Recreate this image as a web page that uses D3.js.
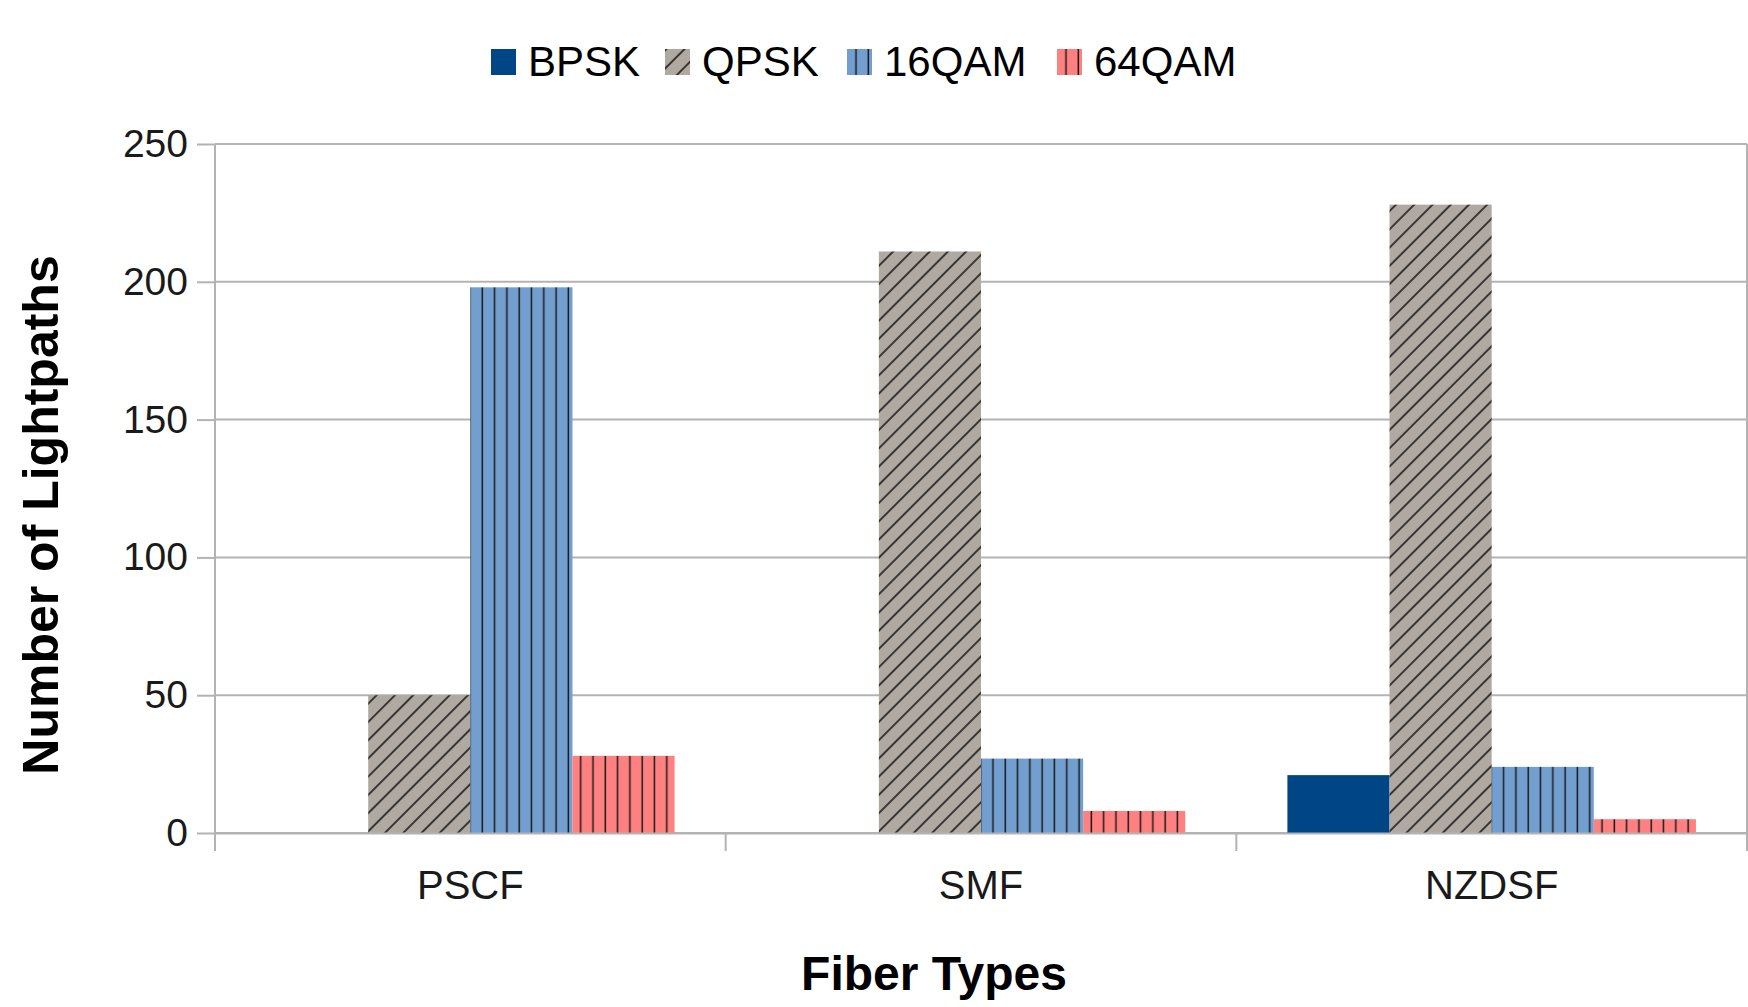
<!DOCTYPE html>
<html>
<head>
<meta charset="utf-8">
<script src="https://cdn.jsdelivr.net/npm/d3@7"></script>
<style>
  html, body { margin: 0; padding: 0; background: #fff; }
  svg { display: block; font-family: 'Liberation Sans', Arial, sans-serif; }
</style>
</head>
<body>
<div id="chart"></div>
<script>
// chart data
const categories = ['PSCF', 'SMF', 'NZDSF'];
const seriesNames = ['BPSK', 'QPSK', '16QAM', '64QAM'];
const bpsk = [0, 0, 21];
const qpsk = [50, 211, 228];
const qam16 = [198, 27, 24];
const qam64 = [28, 8, 5];
const yTicks = [0, 50, 100, 150, 200, 250];

const seriesValues = [bpsk, qpsk, qam16, qam64];
const colors = ['#004586', '#b0a9a1', '#729fcf', '#ff8080'];
const fills = ['#004586', 'url(#hatch-qpsk)', 'url(#hatch-16qam)', 'url(#hatch-64qam)'];

const width = 1748, height = 1007;
const margin = { top: 144, right: 1, bottom: 174, left: 215 };
const innerW = width - margin.left - margin.right;
const innerH = height - margin.top - margin.bottom;

const svg = d3.select('#chart').append('svg')
  .attr('width', width)
  .attr('height', height);

svg.append('rect').attr('width', width).attr('height', height).attr('fill', '#fff');

// hatch patterns
const defs = svg.append('defs');
const diag = defs.append('pattern')
  .attr('id', 'hatch-qpsk')
  .attr('patternUnits', 'userSpaceOnUse')
  .attr('width', 12.9).attr('height', 12.9)
  .attr('patternTransform', 'rotate(45)');
diag.append('rect').attr('width', 12.9).attr('height', 12.9).attr('fill', colors[1]);
diag.append('line').attr('x1', 1).attr('x2', 1).attr('y1', 0).attr('y2', 12.9)
  .attr('stroke', '#1a1a1a').attr('stroke-width', 1.6);

[['hatch-16qam', colors[2]], ['hatch-64qam', colors[3]]].forEach(([id, c]) => {
  const p = defs.append('pattern')
    .attr('id', id)
    .attr('patternUnits', 'userSpaceOnUse')
    .attr('x', 3).attr('width', 12.3).attr('height', 20);
  p.append('rect').attr('width', 12.3).attr('height', 20).attr('fill', c);
  p.append('line').attr('x1', 6).attr('x2', 6).attr('y1', 0).attr('y2', 20)
    .attr('stroke', '#1a1a1a').attr('stroke-width', 1.5);
});

const g = svg.append('g').attr('transform', `translate(${margin.left},${margin.top})`);

const x0 = d3.scaleBand().domain(categories).range([0, innerW]);
const x1 = d3.scaleBand().domain(seriesNames).range([0, x0.bandwidth()])
  .paddingInner(0).paddingOuter(0.5);
const y = d3.scaleLinear().domain([0, 250]).range([innerH, 0]);

const gridColor = '#b3b3b3';

// gridlines + y ticks
const yAxis = g.append('g')
  .call(d3.axisLeft(y).tickValues(yTicks).tickSize(18).tickPadding(9))
  .call(a => a.select('.domain').remove());
yAxis.selectAll('.tick line').attr('stroke', gridColor).attr('stroke-width', 2);
yAxis.selectAll('.tick text')
  .attr('font-size', 39).attr('fill', '#1a1a1a')
  .attr('font-family', "'Liberation Sans', Arial, sans-serif");

g.append('g').selectAll('line')
  .data(yTicks)
  .join('line')
  .attr('x1', 0).attr('x2', innerW)
  .attr('y1', d => y(d)).attr('y2', d => y(d))
  .attr('stroke', gridColor).attr('stroke-width', 2);

// bars
const groups = g.append('g').selectAll('g')
  .data(categories)
  .join('g')
  .attr('transform', d => `translate(${x0(d)},0)`);

groups.selectAll('rect')
  .data((c, ci) => seriesNames.map((s, si) => ({ s, si, v: seriesValues[si][ci] })))
  .join('rect')
  .attr('x', d => x1(d.s))
  .attr('width', x1.bandwidth())
  .attr('y', d => y(d.v))
  .attr('height', d => y(0) - y(d.v))
  .attr('fill', d => fills[d.si]);

// frame: left axis, right border, baseline
g.append('line').attr('x1', 0).attr('x2', 0).attr('y1', 0).attr('y2', innerH)
  .attr('stroke', gridColor).attr('stroke-width', 2);
g.append('line').attr('x1', innerW).attr('x2', innerW).attr('y1', 0).attr('y2', innerH)
  .attr('stroke', gridColor).attr('stroke-width', 2);

// x axis
const xAxis = g.append('g')
  .attr('transform', `translate(0,${innerH})`)
  .call(d3.axisBottom(x0).tickSize(0).tickPadding(38));
xAxis.select('.domain').attr('stroke', gridColor).attr('stroke-width', 2);
xAxis.selectAll('.tick text')
  .attr('font-size', 40).attr('fill', '#1a1a1a')
  .attr('font-family', "'Liberation Sans', Arial, sans-serif");

// category boundary ticks
const bounds = categories.map(c => x0(c)).concat([innerW]);
g.append('g').selectAll('line')
  .data(bounds)
  .join('line')
  .attr('x1', d => d).attr('x2', d => d)
  .attr('y1', innerH).attr('y2', innerH + 18)
  .attr('stroke', gridColor).attr('stroke-width', 2);

// axis titles
svg.append('text')
  .attr('x', 934).attr('y', 990)
  .attr('text-anchor', 'middle')
  .attr('font-size', 48).attr('font-weight', 'bold').attr('fill', '#000')
  .text('Fiber Types');

svg.append('text')
  .attr('transform', 'translate(58,515) rotate(-90)')
  .attr('text-anchor', 'middle')
  .attr('font-size', 50).attr('font-weight', 'bold').attr('fill', '#000')
  .text('Number of Lightpaths');

// legend
const legendX = [491, 665, 847, 1057];
const legend = svg.append('g').selectAll('g')
  .data(seriesNames)
  .join('g')
  .attr('transform', (d, i) => `translate(${legendX[i]},49)`);
legend.append('rect')
  .attr('width', 25).attr('height', 26)
  .attr('fill', (d, i) => fills[i]);
legend.append('text')
  .attr('x', 37).attr('y', 27)
  .attr('font-size', 42).attr('fill', '#000')
  .text(d => d);
</script>
</body>
</html>
